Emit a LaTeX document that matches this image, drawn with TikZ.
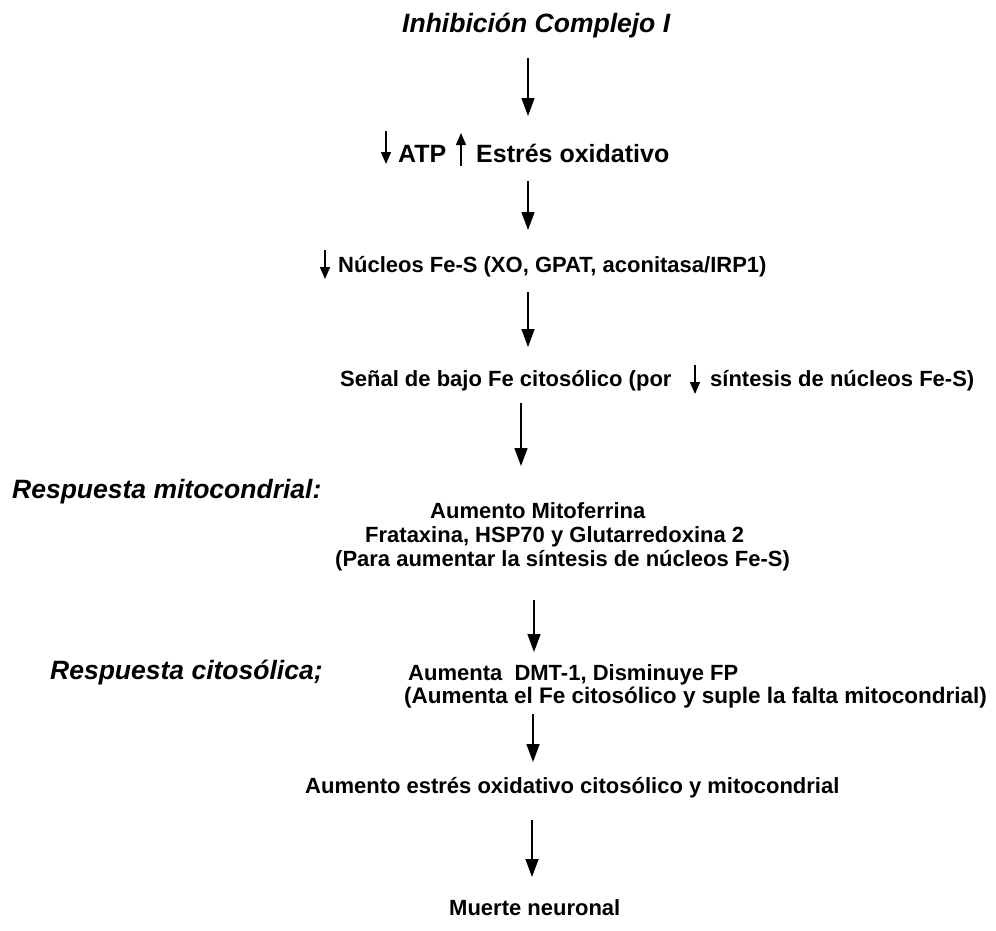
\documentclass[tikz,border=0pt]{standalone}
\usepackage{fontspec}
\setmainfont{Liberation Sans}
\usetikzlibrary{arrows.meta}
\begin{document}
\begin{tikzpicture}[x=1pt,y=-1pt,
  txt/.style={font=\fontsize{22}{26}\selectfont\bfseries, inner sep=0pt, anchor=base west},
  big/.style={font=\fontsize{25}{28}\selectfont\bfseries, inner sep=0pt, anchor=base west},
  ttl/.style={font=\fontsize{26.5}{30}\selectfont\bfseries\itshape, inner sep=0pt, anchor=base west},
  flow/.style={line width=1.5pt, -{Triangle[width=13pt,length=18pt]}},
  mini/.style={line width=1.4pt, -{Triangle[width=10pt,length=12pt]}}]
\useasboundingbox (0,0) rectangle (996,930);

% texts
\node[ttl] (t1) at (402,32) {Inhibición Complejo I};
\node[big] (atp) at (398,162) {ATP};
\node[big] (est) at (476,162) {Estrés oxidativo};
\node[txt] (nuc) at (338,272) {Núcleos Fe-S (XO, GPAT, aconitasa/IRP1)};
\node[txt] (sen1) at (340,386) {Señal de bajo Fe citosólico (por};
\node[txt] (sen2) at (710,386) {síntesis de núcleos Fe-S)};
\node[ttl] (rm) at (12,498) {Respuesta mitocondrial:};
\node[txt] (m1) at (430,518) {Aumento Mitoferrina};
\node[txt] (m2) at (365,542) {Frataxina, HSP70 y Glutarredoxina 2};
\node[txt] (m3) at (335,566) {(Para aumentar la síntesis de núcleos Fe-S)};
\node[ttl] (rc) at (50,679) {Respuesta citosólica;};
\node[txt] (c1) at (408,680) {Aumenta\ \ DMT-1, Disminuye FP};
\node[txt,font=\fontsize{22.5}{26}\selectfont\bfseries] (c2) at (404,703) {(Aumenta el Fe citosólico y suple la falta mitocondrial)};
\node[txt] (ox) at (305,793) {Aumento estrés oxidativo citosólico y mitocondrial};
\node[txt] (mn) at (449,915) {Muerte neuronal};

% main arrows
\coordinate (a1s) at (528,58);  \coordinate (a1e) at (528,116);
\coordinate (a2s) at (528,181); \coordinate (a2e) at (528,230);
\coordinate (a3s) at (528,292); \coordinate (a3e) at (528,347);
\coordinate (a4s) at (521,403); \coordinate (a4e) at (521,466);
\coordinate (a5s) at (534,600); \coordinate (a5e) at (534,652);
\coordinate (a6s) at (533,714); \coordinate (a6e) at (533,762);
\coordinate (a7s) at (532,820); \coordinate (a7e) at (532,877);
\draw[flow] (a1s) -- (a1e);
\draw[flow] (a2s) -- (a2e);
\draw[flow] (a3s) -- (a3e);
\draw[flow] (a4s) -- (a4e);
\draw[flow] (a5s) -- (a5e);
\draw[flow] (a6s) -- (a6e);
\draw[flow] (a7s) -- (a7e);

% inline arrows
\coordinate (i1s) at (386,131); \coordinate (i1e) at (386,164);
\coordinate (i2s) at (461,166); \coordinate (i2e) at (461,133);
\coordinate (i3s) at (325,250); \coordinate (i3e) at (325,279);
\coordinate (i4s) at (695,365); \coordinate (i4e) at (695,394);
\draw[mini] (i1s) -- (i1e);
\draw[mini] (i2s) -- (i2e);
\draw[mini] (i3s) -- (i3e);
\draw[mini] (i4s) -- (i4e);
\end{tikzpicture}
\end{document}
